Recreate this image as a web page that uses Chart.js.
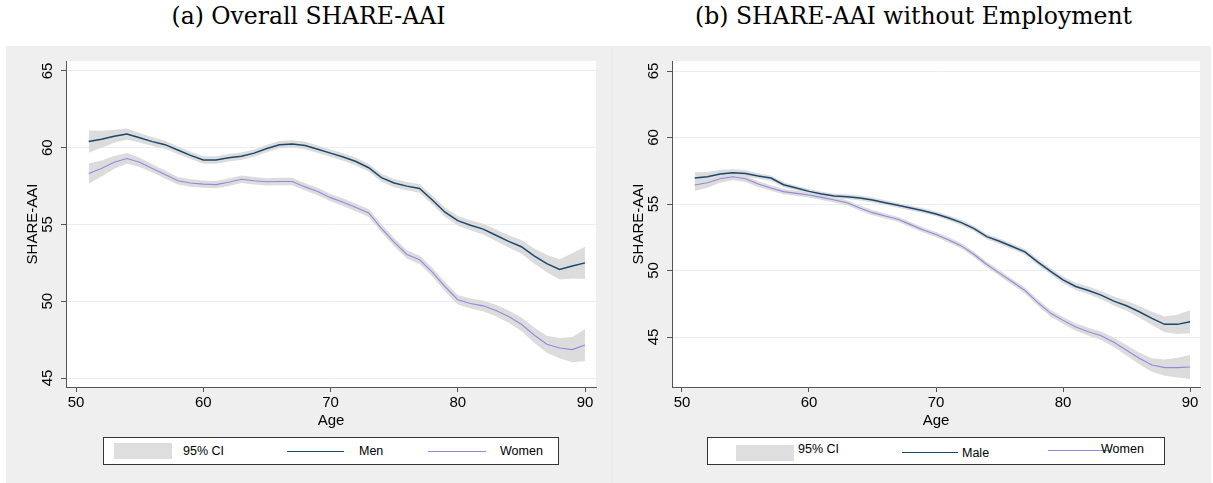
<!DOCTYPE html>
<html>
<head>
<meta charset="utf-8">
<script src="https://cdn.jsdelivr.net/npm/chart.js@4/dist/chart.umd.min.js"></script>
<style>
  html, body { margin: 0; padding: 0; background: #ffffff; }
  body { width: 1213px; height: 483px; position: relative; overflow: hidden; font-family: "Liberation Sans", Arial, sans-serif; }
  .title { position: absolute; top: 2px; font-family: "DejaVu Serif", serif; font-size: 23.5px; color: #000; text-align: center; width: 605px; }
  .panel { position: absolute; top: 46px; height: 437px; background: #efefef; }
  .sep { position: absolute; left: 611px; top: 46px; width: 1px; height: 437px; background: #e6ecee; }
  .legend { position: absolute; top: 437px; height: 28px; background: #fff; border: 1px solid #333; box-sizing: border-box; font-size: 12.5px; color: #000; }
  .legend span { position: absolute; }
  .sw { height: 16px; background: #dedede; }
  .ln { height: 0; }
</style>
</head>
<body>
<div class="title" style="left:6px">(a) Overall SHARE-AAI</div>
<div class="title" style="left:611px">(b) SHARE-AAI without Employment</div>

<div class="panel" style="left:6px;width:605px"><canvas id="c1"></canvas></div>
<div class="panel" style="left:612px;width:599px"><canvas id="c2"></canvas></div>
<div class="sep"></div>

<div class="legend" style="left:103px;width:456px">
  <span class="sw" style="left:10px;top:5px;width:58px"></span>
  <span style="left:79px;top:6px">95% CI</span>
  <span class="ln" style="left:183px;top:13px;width:57px;border-top:1.5px solid #1a476f"></span>
  <span style="left:255px;top:6px">Men</span>
  <span class="ln" style="left:324px;top:13px;width:58px;border-top:1px solid #9388e0"></span>
  <span style="left:396px;top:6px">Women</span>
</div>
<div class="legend" style="left:707px;width:458px">
  <span class="sw" style="left:28px;top:7px;width:58px"></span>
  <span style="left:90px;top:4px">95% CI</span>
  <span class="ln" style="left:194px;top:14px;width:56px;border-top:1.5px solid #1a476f"></span>
  <span style="left:254px;top:8px">Male</span>
  <span class="ln" style="left:340px;top:12px;width:62px;border-top:1px solid #9388e0"></span>
  <span style="left:393px;top:4px">Women</span>
</div>

<script>
const ages = [51,52,53,54,55,56,57,58,59,60,61,62,63,64,65,66,67,68,69,70,
              71,72,73,74,75,76,77,78,79,80,81,82,83,84,85,86,87,88,89,90];

// (a) Overall SHARE-AAI
const menAll = [60.4,60.55,60.75,60.9,60.65,60.4,60.2,59.85,59.5,59.2,
                59.2,59.35,59.45,59.65,59.95,60.2,60.25,60.15,59.9,59.65,
                59.4,59.1,58.7,58.05,57.7,57.5,57.35,56.6,55.8,55.25,
                54.95,54.7,54.3,53.9,53.55,52.95,52.45,52.07,52.3,52.5];
const womenAll = [58.32,58.65,59.05,59.3,59.05,58.65,58.25,57.85,57.7,57.63,
                  57.6,57.75,57.95,57.85,57.78,57.8,57.8,57.45,57.15,56.75,
                  56.45,56.1,55.75,54.75,53.85,53.05,52.7,51.9,50.95,50.1,
                  49.85,49.7,49.4,49.0,48.5,47.8,47.2,46.95,46.85,47.15];
const ciMenAll = [0.72,0.55,0.43,0.36,0.31,0.28,0.26,0.25,0.24,0.24,
                  0.24,0.24,0.24,0.24,0.24,0.24,0.24,0.24,0.24,0.24,
                  0.24,0.25,0.25,0.26,0.27,0.27,0.28,0.29,0.3,0.31,
                  0.33,0.35,0.37,0.4,0.44,0.49,0.56,0.66,0.82,1.05];
const ciWomenAll = [0.66,0.52,0.42,0.35,0.3,0.27,0.26,0.25,0.24,0.24,
                    0.24,0.24,0.24,0.24,0.24,0.24,0.24,0.24,0.24,0.24,
                    0.25,0.25,0.26,0.26,0.27,0.28,0.28,0.29,0.3,0.31,
                    0.33,0.35,0.37,0.4,0.44,0.49,0.56,0.66,0.82,1.05];

// (b) SHARE-AAI without Employment
const menNoEmp = [56.95,57.05,57.25,57.35,57.3,57.1,56.95,56.45,56.2,55.95,
                  55.75,55.6,55.55,55.45,55.3,55.1,54.9,54.7,54.5,54.25,
                  53.95,53.6,53.15,52.55,52.2,51.8,51.4,50.65,49.95,49.3,
                  48.8,48.5,48.15,47.7,47.35,46.9,46.4,45.95,45.95,46.15];
const womenNoEmp = [56.43,56.6,56.9,57.05,56.9,56.5,56.2,55.93,55.8,55.68,
                    55.5,55.3,55.1,54.7,54.35,54.1,53.85,53.45,53.05,52.7,
                    52.3,51.85,51.2,50.45,49.8,49.15,48.5,47.6,46.8,46.25,
                    45.75,45.4,45.1,44.6,44.0,43.4,42.9,42.7,42.7,42.75];
const ciMenNoEmp = [0.44,0.36,0.3,0.26,0.23,0.21,0.2,0.19,0.18,0.18,
                    0.18,0.18,0.18,0.18,0.18,0.18,0.18,0.18,0.18,0.18,
                    0.19,0.19,0.2,0.2,0.21,0.21,0.22,0.23,0.24,0.25,
                    0.27,0.29,0.31,0.34,0.38,0.43,0.5,0.6,0.72,0.86];
const ciWomenNoEmp = [0.46,0.37,0.31,0.27,0.24,0.22,0.21,0.2,0.19,0.19,
                      0.19,0.19,0.19,0.19,0.19,0.19,0.19,0.19,0.19,0.19,
                      0.2,0.2,0.21,0.21,0.22,0.22,0.23,0.24,0.25,0.26,
                      0.28,0.3,0.32,0.35,0.39,0.44,0.51,0.61,0.74,0.9];

const xTicks = [50, 60, 70, 80, 90];
const yTicks = [45, 50, 55, 60, 65];

const menColor = "#1a476f";
const womenColor = "#9388e0";
const bandColor = "#dcdcdc";
const gridColor = "#e7eff2";
const axisColor = "#555555";

const pts = (ys) => ys.map((y, i) => ({ x: ages[i], y: y }));
const shift = (ys, ci, s) => ys.map((y, i) => ({ x: ages[i], y: y + s * ci[i] }));

const plotBg = {
  id: "plotBg",
  beforeDraw(chart) {
    const { ctx, chartArea: a } = chart;
    ctx.save();
    ctx.fillStyle = "#ffffff";
    ctx.fillRect(a.left, a.top, a.right - a.left, a.bottom - a.top);
    ctx.restore();
  },
};

function makeChart(id, men, women, ciMen, ciWomen, xr, yr, padRight) {
  const lineDs = (data, color, w) => ({
    data: data, borderColor: color, borderWidth: w, pointRadius: 0, tension: 0, fill: false,
  });
  const bandDs = (data, fill) => ({
    data: data, borderWidth: 0, borderColor: "transparent", backgroundColor: bandColor,
    pointRadius: 0, tension: 0, fill: fill,
  });
  return new Chart(document.getElementById(id), {
    type: "line",
    data: {
      datasets: [
        lineDs(pts(men), menColor, 1.5),
        lineDs(pts(women), womenColor, 1.1),
        bandDs(shift(men, ciMen, 1), "+1"),
        bandDs(shift(men, ciMen, -1), false),
        bandDs(shift(women, ciWomen, 1), "+1"),
        bandDs(shift(women, ciWomen, -1), false),
      ],
    },
    options: {
      responsive: true,
      maintainAspectRatio: false,
      animation: false,
      layout: { padding: { left: 10, right: padRight, top: 15, bottom: 36 } },
      scales: {
        x: {
          type: "linear",
          min: xr[0],
          max: xr[1],
          afterFit: (s) => { s.height = 60; },
          afterBuildTicks: (s) => { s.ticks = xTicks.map((v) => ({ value: v })); },
          grid: { drawOnChartArea: false, drawTicks: true, tickLength: 5, tickColor: axisColor },
          border: { display: true, color: axisColor, width: 1 },
          ticks: { color: "#000", font: { family: "Liberation Sans", size: 15 }, padding: 2, maxRotation: 0 },
          title: { display: true, text: "Age", color: "#000", font: { family: "Liberation Sans", size: 15 }, padding: { top: 0, bottom: 17 } },
        },
        y: {
          type: "linear",
          min: yr[0],
          max: yr[1],
          afterFit: (s) => { s.width = 50; },
          afterBuildTicks: (s) => { s.ticks = yTicks.map((v) => ({ value: v })); },
          grid: { color: gridColor, lineWidth: 1, drawTicks: true, tickLength: 5, tickColor: axisColor },
          border: { display: true, color: axisColor, width: 1 },
          ticks: { color: "#000", font: { family: "Liberation Sans", size: 15 }, minRotation: 90, maxRotation: 90, crossAlign: "center", padding: 5 },
          title: { display: true, text: "SHARE-AAI", color: "#000", font: { family: "Liberation Sans", size: 15 }, padding: { top: 8, bottom: 0 } },
        },
      },
      plugins: {
        legend: { display: false },
        tooltip: { enabled: false },
        filler: { propagate: false },
      },
    },
    plugins: [plotBg],
  });
}

makeChart("c1", menAll, womenAll, ciMenAll, ciWomenAll, [49.214, 90.864], [44.414, 65.651], 15);
makeChart("c2", menNoEmp, womenNoEmp, ciMenNoEmp, ciWomenNoEmp, [49.214, 90.786], [41.241, 65.752], 11);
</script>
</body>
</html>
